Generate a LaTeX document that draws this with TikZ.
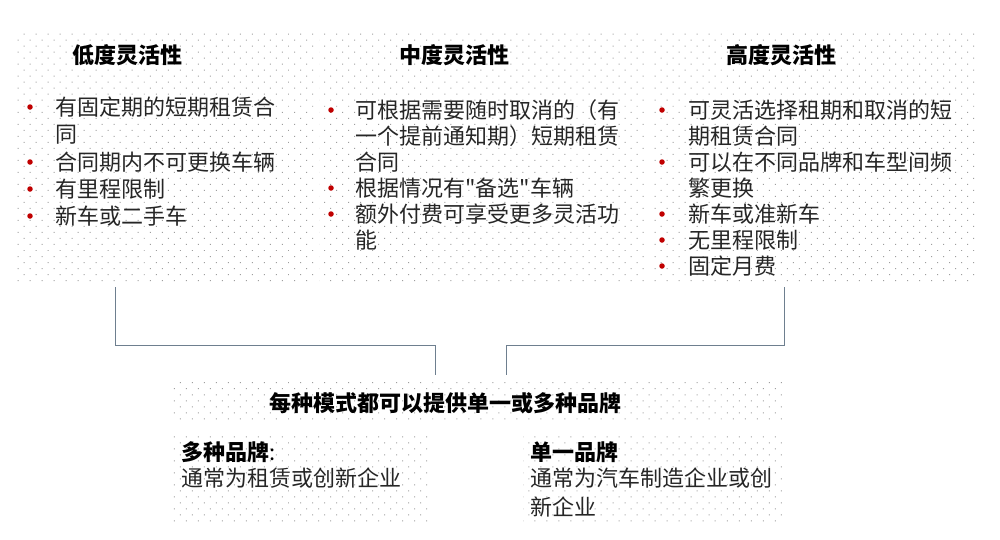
\documentclass[tikz,border=0pt]{standalone}
\usepackage{fontspec}
\newfontfamily\cjk{Noto Sans CJK SC}
\usetikzlibrary{patterns.meta}
\definecolor{bulred}{HTML}{C00000}
\definecolor{conncol}{HTML}{6E7F8F}
\definecolor{txtcol}{HTML}{262626}
\begin{document}
\begin{tikzpicture}[x=1pt,y=-1pt,
 dotbox/.style={draw=none, inner sep=0, anchor=north west,
   pattern={Dots[distance=8.5pt,angle=45,radius=0.7pt]}, pattern color=black!38},
 ttl/.style={font=\cjk\fontsize{22}{26}\selectfont\bfseries, text=black, inner sep=0, anchor=base},
 subttl/.style={font=\cjk\fontsize{22}{26}\selectfont\bfseries, text=black, inner sep=0, anchor=base west},
 txt/.style={font=\cjk\fontsize{22}{26}\selectfont, text=txtcol, inner sep=0, anchor=base west},
 bul/.style={circle, fill=bulred, inner sep=0, minimum size=5.5pt},
 conn/.style={draw=conncol, line width=0.9pt}]
\useasboundingbox (0,0) rectangle (1000,539);

% boxes
\node[dotbox, minimum width=299pt, minimum height=252pt] (low) at (16,33) {};
\node[dotbox, minimum width=329pt, minimum height=252pt] (mid) at (319,33) {};
\node[dotbox, minimum width=326pt, minimum height=252pt] (high) at (652,33) {};
\node[dotbox, minimum width=612pt, minimum height=40pt] (bt) at (170,382) {};
\node[dotbox, minimum width=262pt, minimum height=88pt] (bl) at (170,435) {};
\node[dotbox, minimum width=259pt, minimum height=88pt] (br) at (523,435) {};

% titles
\node[ttl] (tlow) at (127,63) {低度灵活性};
\node[ttl] (tmid) at (454,63) {中度灵活性};
\node[ttl] (thigh) at (781,63) {高度灵活性};

% low list
\foreach \t/\y [count=\i] in {有固定期的短期租赁合/107, 同/134, 合同期内不可更换车辆/162, 有里程限制/189, 新车或二手车/216}
  {\node[txt] (lo\i) at (55,\y+8) {\t};}
\foreach \y [count=\i] in {107,162,189,216}
  {\node[bul] (blo\i) at (30,\y) {};}

% mid list
\foreach \t/\y [count=\i] in {可根据需要随时取消的（有/110, 一个提前通知期）短期租赁/136, 合同/162, 根据情况有"备选"车辆/188, 额外付费可享受更多灵活功/214, 能/240}
  {\node[txt] (mi\i) at (355,\y+8) {\t};}
\foreach \y [count=\i] in {110,188,214}
  {\node[bul] (bmi\i) at (331,\y) {};}

% high list
\foreach \t/\y [count=\i] in {可灵活选择租期和取消的短/110, 期租赁合同/136, 可以在不同品牌和车型间频/162, 繁更换/188, 新车或准新车/214, 无里程限制/240, 固定月费/266}
  {\node[txt] (hi\i) at (688,\y+8) {\t};}
\foreach \y [count=\i] in {110,162,214,240,266}
  {\node[bul] (bhi\i) at (662,\y) {};}

% bottom
\node[ttl] (btt) at (445,411) {每种模式都可以提供单一或多种品牌};
\node[subttl] (mb) at (181,460) {多种品牌\textmd{:}};
\node[txt] (mbt) at (181,486) {通常为租赁或创新企业};
\node[subttl] (sb) at (530,460) {单一品牌};
\node[txt] (sbt1) at (530,486) {通常为汽车制造企业或创};
\node[txt] (sbt2) at (530,515) {新企业};

% connectors
\coordinate (jl) at (115,345);
\coordinate (jr) at (784,345);
\coordinate (xl) at (435,0);
\coordinate (xr) at (506,0);
\draw[conn] ([yshift=-2pt]low.south -| jl) -- (jl) -| ([yshift=7pt]bt.north -| xl);
\draw[conn] ([yshift=-2pt]high.south -| jr) -- (jr) -| ([yshift=7pt]bt.north -| xr);
\end{tikzpicture}
\end{document}
